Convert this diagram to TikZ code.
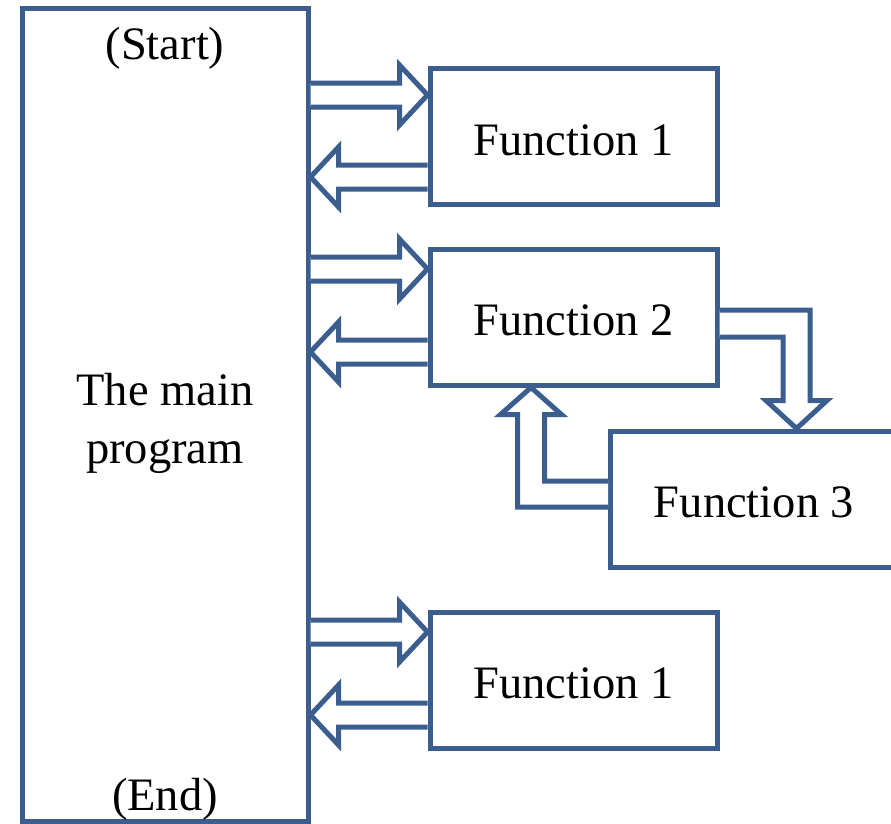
\documentclass[tikz,border=0pt]{standalone}
\usepackage{fontspec}
\setmainfont{Liberation Serif}
\usetikzlibrary{calc}
\definecolor{lineblue}{HTML}{3B5E8E}
\tikzset{
every node/.style={font=\fontsize{46.5}{58}\selectfont, inner sep=0pt},
box/.style={draw=lineblue, line width=5pt, fill=white},
fbox/.style={box, minimum width=287pt, minimum height=136pt, text height=37pt, text depth=0pt},
blk/.style={draw=lineblue, line width=5pt, fill=white, line join=miter},
}
% block arrow from the main program to a function, tip at height #3
\newcommand{\callarr}[3]{%
  \coordinate (tip) at (#2.west |- 0,#3);
  \draw[blk] (#1.east |- 0,#3-12) -| ($(tip)+(-28,-30)$) -- (tip) -- ($(tip)+(-28,30)$) |- (#1.east |- 0,#3+12);
}
% block arrow back from a function to the main program
\newcommand{\retarr}[3]{%
  \coordinate (tip) at (#2.east |- 0,#3);
  \draw[blk] (#1.west |- 0,#3-12) -| ($(tip)+(28,-30)$) -- (tip) -- ($(tip)+(28,30)$) |- (#1.west |- 0,#3+12);
}

\begin{document}
\begin{tikzpicture}[x=1pt, y=-1pt]
    \useasboundingbox (0,0) rectangle (891,823);
    \clip (0,0) rectangle (891,823);

    \node[box, minimum width=286pt, minimum height=813pt] (main) at (165,414.5) {};
    \node[anchor=base, yshift=-54pt] (start) at (main.north) {(Start)};
    \node[anchor=base, yshift=13pt] (end) at (main.south) {(End)};
    \node[align=center, yshift=-8.6pt] (mainlbl) at (main.center) {The main\\program};

    \node[fbox] (fa) at (573.5,136.5) {Function 1};
    \node[fbox] (fb) at (573.5,317) {Function 2};
    \node[fbox] (fc) at (754,499) {Function 3};
    \node[fbox] (fd) at (573.5,680) {Function 1};

    \callarr{main}{fa}{95}
    \retarr{fa}{main}{177}
    \callarr{main}{fb}{269}
    \retarr{fb}{main}{352}
    \callarr{main}{fd}{632}
    \retarr{fd}{main}{715}

    % function 2 calls function 3 and gets back
    \coordinate (tip) at ([xshift=42.5pt]fc.north);
    \draw[blk] (fb.east |- 0,310) -| ($(tip)+(13.5,-28)$) -- ++(17,0) -- (tip)
        -- ($(tip)+(-30.5,-28)$) -- ++(17,0) |- (fb.east |- 0,337);
    \coordinate (tip) at ([xshift=-42.5pt]fb.south);
    \draw[blk] (fc.west |- 0,507) -| ($(tip)+(-13.5,27)$) -- ++(-17,0) -- (tip)
        -- ($(tip)+(30.5,27)$) -- ++(-17,0) |- (fc.west |- 0,481);
\end{tikzpicture}
\end{document}
